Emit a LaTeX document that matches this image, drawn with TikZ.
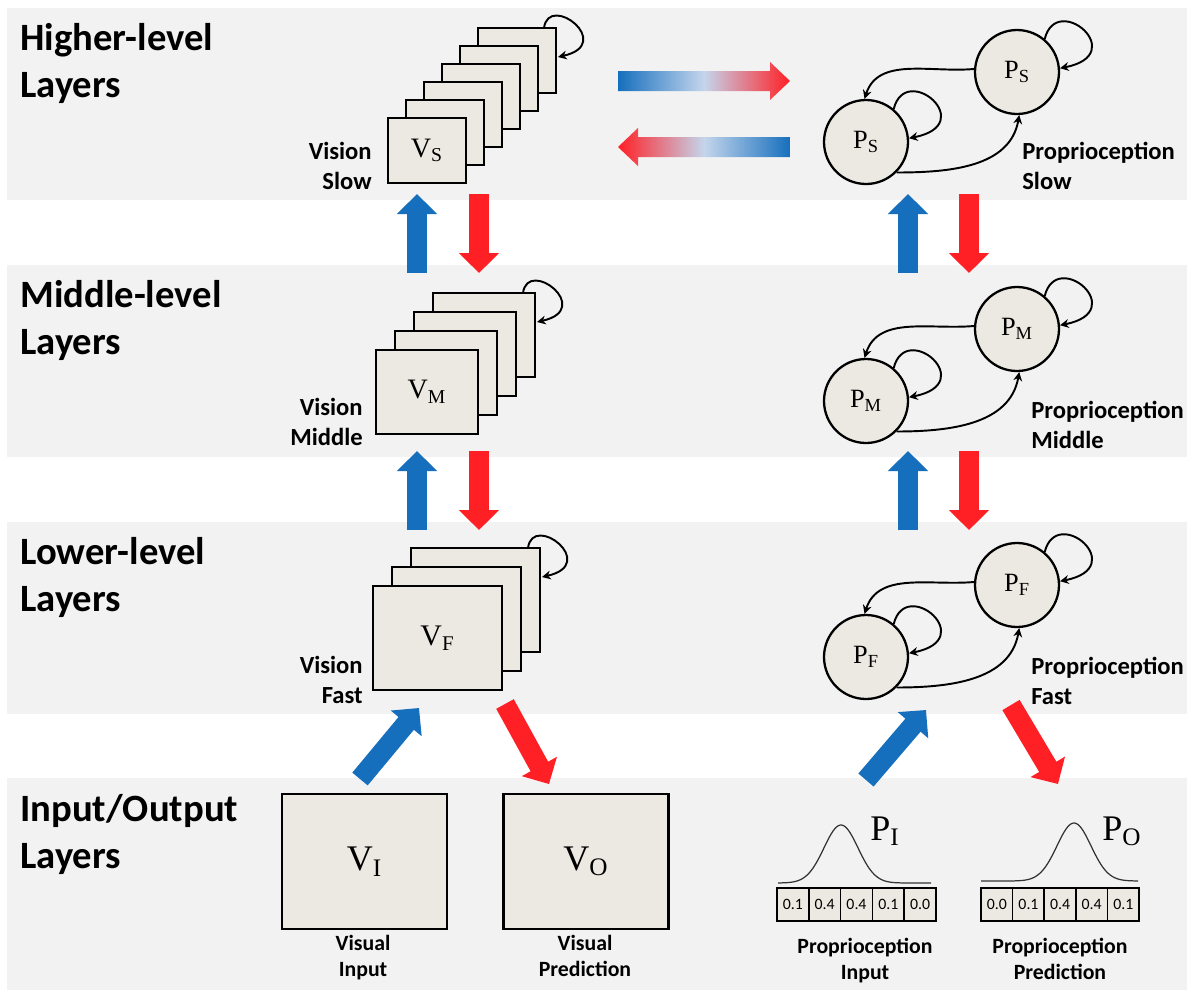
\documentclass[tikz,border=0pt]{standalone}
\usepackage{fontspec}
\setmainfont{Carlito}
\newfontfamily\serifsym{Liberation Serif}
\usetikzlibrary{arrows.meta}
\definecolor{bandgray}{RGB}{242,242,242}
\definecolor{boxfill}{RGB}{236,233,226}
\definecolor{upblue}{RGB}{22,111,189}
\definecolor{dnred}{RGB}{255,32,38}
\definecolor{midblue}{RGB}{196,213,236}
\tikzset{
  lay/.style={fill=bandgray},
  ttl/.style={font=\fontsize{22pt}{26.6pt}\selectfont\bfseries, align=left, anchor=base west, inner sep=0pt},
  lbl/.style={font=\fontsize{14pt}{16.6pt}\selectfont\bfseries, inner sep=0pt},
  iol/.style={font=\fontsize{12.4pt}{14.8pt}\selectfont\bfseries, align=center, anchor=base, inner sep=0pt},
  vbox/.style={draw, fill=boxfill, line width=1.6pt, inner sep=0pt, outer sep=0pt, anchor=north west},
  pcir/.style={circle, draw, fill=boxfill, line width=1.3pt, minimum size=1.68cm, inner sep=0pt, font=\serifsym\fontsize{15pt}{15pt}\selectfont},
  sym/.style={font=\serifsym\fontsize{16pt}{16pt}\selectfont, inner sep=0pt},
  upar/.style={draw=upblue, line width=0.4cm, -{Triangle[width=0.78cm,length=0.4cm]}},
  dnar/.style={upar, draw=dnred},
  rec/.style={line width=1.1pt, -{Stealth[length=5pt,width=5pt]}},
  link/.style={rec},
  cell/.style={draw, fill=boxfill, line width=1pt, minimum width=0.636cm, minimum height=0.66cm, inner sep=0pt, outer sep=0pt, anchor=north west, font=\fontsize{9pt}{9pt}\selectfont},
  gauss/.style={line width=0.7pt, draw=black!80}
}
\begin{document}
\begin{tikzpicture}[x=0.02cm, y=0.02cm]
	\useasboundingbox (0,0) rectangle (1194,-998);
	\fill[white] (0,0) rectangle (1194,-998);
	% layer bands
	\fill[lay] (7,-8) rectangle (1187,-200);
	\fill[lay] (7,-265) rectangle (1187,-457);
	\fill[lay] (7,-522) rectangle (1187,-714);
	\fill[lay] (7,-778) rectangle (1187,-990);
	\node[ttl] (thigh) at (20,-97) {Higher-level\\Layers};
	\node[ttl] (tmid) at (20,-354) {Middle-level\\Layers};
	\node[ttl] (tlow) at (20,-611) {Lower-level\\Layers};
	\node[ttl] (tio) at (20,-868) {Input/Output\\Layers};
	% vision stacks, back to front
	\foreach \k in {5,4,...,0} { \node[vbox, minimum width=1.56cm, minimum height=1.3cm] (vs\k) at ({388+18*\k},{-118+18*\k}) {}; }
	\foreach \k in {3,2,1,0} { \node[vbox, minimum width=2.04cm, minimum height=1.68cm] (vm\k) at ({376+19*\k},{-350+19*\k}) {}; }
	\foreach \k in {2,1,0} { \node[vbox, minimum width=2.58cm, minimum height=2.08cm] (vf\k) at ({373+19*\k},{-586+19*\k}) {}; }
	\node[sym] (vstxt) at (vs0) {V\textsubscript{S}};
	\node[sym] (vmtxt) at (vm0) {V\textsubscript{M}};
	\node[sym, font=\serifsym\fontsize{17pt}{17pt}\selectfont] (vftxt) at (vf0) {V\textsubscript{F}};
	\foreach \b in {vs5, vm3, vf2} { \draw[rec] ([shift={(-12,0)}]\b.north east) .. controls +(5,36) and +(58,13) .. ([shift={(2,-29)}]\b.north east); }
	\node[lbl, align=right, anchor=base east] (vsl) at (372,-189) {Vision\\Slow};
	\node[lbl, align=right, anchor=base east] (vml) at (363,-445) {Vision\\Middle};
	\node[lbl, align=right, anchor=base east] (vfl) at (363,-703) {Vision\\Fast};
	% proprioception pairs
	\foreach \s/\ya/\yb/\lx/\nm in {S/72/142/1022/Slow, M/329/401/1031/Middle, F/585/657/1031/Fast} {
		\node[pcir] (p\s-u) at (1017,-\ya) {P\textsubscript{\s}};
		\node[pcir] (p\s-l) at (866,-\yb) {P\textsubscript{\s}};
		\draw[rec] (p\s-u.50) .. controls +(12,48) and +(71,14) .. (p\s-u.5);
		\draw[rec] (p\s-l.50) .. controls +(12,48) and +(71,14) .. (p\s-l.5);
		\draw[link] (p\s-u.176) to[out=185, in=72] (p\s-l.92);
		\draw[link] (p\s-l.-45) to[out=0, in=-100] (p\s-u.-87);
		\node[lbl, align=left, anchor=base west] (pl\s) at (\lx,{-\yb-47}) {Proprioception\\\nm};
	}
	% exchange between the slow layers
	\shade[left color=upblue, right color=dnred, middle color=midblue] (618,-71) -- (770,-71) -- (770,-62) -- (790,-81) -- (770,-100) -- (770,-91) -- (618,-91) -- cycle;
	\shade[left color=dnred, right color=upblue, middle color=midblue] (790,-137) -- (638,-137) -- (638,-128) -- (618,-147) -- (638,-166) -- (638,-157) -- (790,-157) -- cycle;
	% bottom-up and top-down arrows
	\foreach \x/\xr in {417/479, 908/969} {
		\draw[upar] (\x,-273) -- (\x,-194);
		\draw[dnar] (\xr,-194) -- (\xr,-273);
		\draw[upar] (\x,-530) -- (\x,-451);
		\draw[dnar] (\xr,-451) -- (\xr,-530);
	}
	\draw[upar] (360,-779) -- (419,-708);
	\draw[dnar] (505,-704) -- (549,-784);
	\draw[upar] (866,-780) -- (926,-710);
	\draw[dnar] (1011,-705) -- (1058,-784);
	% input / output
	\node[vbox, anchor=center, minimum width=3.3cm, minimum height=2.7cm, font=\serifsym\fontsize{20.5pt}{20.5pt}\selectfont] (vi) at (364.5,-861.5) {V\textsubscript{I}};
	\node[vbox, anchor=center, minimum width=3.3cm, minimum height=2.7cm, font=\serifsym\fontsize{20.5pt}{20.5pt}\selectfont] (vo) at (586,-861.5) {V\textsubscript{O}};
	\node[iol] (vil) at (363,-976) {Visual\\Input};
	\node[iol] (vol) at (585,-976) {Visual\\Prediction};
	\foreach \v [count=\i from 0] in {0.1,0.4,0.4,0.1,0.0} { \node[cell] (pi\i) at ({777+31.8*\i},-888) {\v}; }
	\foreach \v [count=\i from 0] in {0.0,0.1,0.4,0.4,0.1} { \node[cell] (po\i) at ({981+31.6*\i},-888) {\v}; }
	\draw[gauss] plot[domain=778:931, samples=90, smooth] (\x,{-883+58*exp(-((\x-841)^2)/578)});
	\draw[gauss] plot[domain=981:1138, samples=90, smooth] (\x,{-881+58*exp(-((\x-1074)^2)/578)});
	\node[sym, anchor=base west, font=\serifsym\fontsize{20.5pt}{20.5pt}\selectfont] (pitxt) at (870,-840) {P\textsubscript{I}};
	\node[sym, anchor=base west, font=\serifsym\fontsize{20.5pt}{20.5pt}\selectfont] (potxt) at (1102,-840) {P\textsubscript{O}};
	\node[iol] (pil) at (865,-979) {Proprioception\\Input};
	\node[iol] (pol) at (1060,-979) {Proprioception\\Prediction};
\end{tikzpicture}
\end{document}
